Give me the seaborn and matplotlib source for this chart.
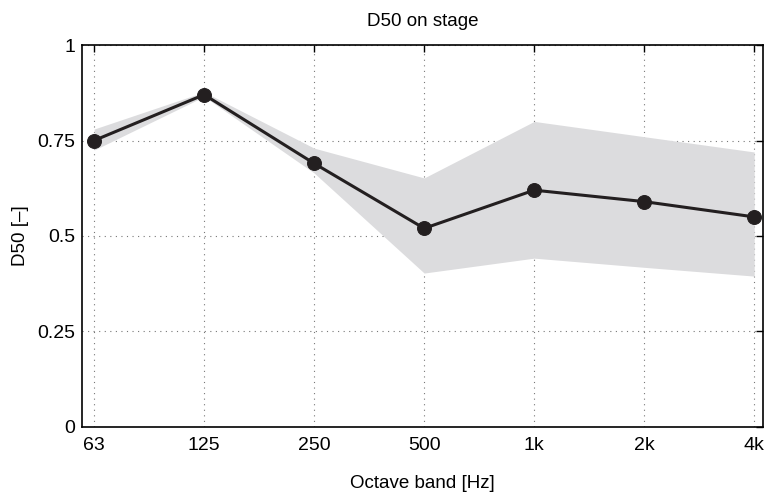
import matplotlib
matplotlib.use("Agg")
import matplotlib.pyplot as plt
import seaborn as sns
import pandas as pd
import numpy as np

bands = ["63", "125", "250", "500", "1k", "2k", "4k"]
d50 = [0.75, 0.87, 0.69, 0.52, 0.62, 0.59, 0.55]
band_upper = [0.78, 0.877, 0.73, 0.652, 0.80, 0.76, 0.72]
band_lower = [0.725, 0.865, 0.665, 0.403, 0.442, 0.418, 0.395]
yticks = [0, 0.25, 0.5, 0.75, 1]
ytick_labels = ["0", "0.25", "0.5", "0.75", "1"]

sns.set_style("white")
plt.rcParams["font.family"] = ["Liberation Sans", "DejaVu Sans"]
plt.rcParams["text.color"] = "black"
plt.rcParams["axes.labelcolor"] = "black"

df = pd.DataFrame({"idx": np.arange(len(bands)), "D50": d50})

fig = plt.figure(figsize=(7.68, 4.93), dpi=100)
ax = fig.add_axes([0.1068, 0.1339, 0.8867, 0.7748])

ax.fill_between(df["idx"], band_lower, band_upper, color="#dcdcde", linewidth=0, zorder=1)
sns.lineplot(data=df, x="idx", y="D50", ax=ax, color="#231f20", linewidth=2.2,
             marker="o", markersize=10, markeredgecolor="#231f20", zorder=3)

ax.set_xlim(-0.11, 6.08)
ax.set_ylim(0, 1)
ax.set_xticks(df["idx"])
ax.set_xticklabels(bands)
ax.set_yticks(yticks)
ax.set_yticklabels(ytick_labels)
ax.grid(True, linestyle=(0, (1, 4)), color="#777777", linewidth=0.8, zorder=0)
ax.set_axisbelow(True)
for s in ax.spines.values():
    s.set_visible(True)
    s.set_color("black")
    s.set_linewidth(1.2)
ax.tick_params(direction="in", length=5, width=1, labelsize=14, colors="black",
               top=True, right=True, pad=5)
ax.tick_params(axis="x", pad=7)
ax.set_xlabel("Octave band [Hz]", fontsize=13.5, labelpad=15, color="black")
ax.set_ylabel("D50 [–]", fontsize=13.5, labelpad=6, color="black")
ax.set_title("D50 on stage", fontsize=13.5, pad=14, color="black")

fig.savefig("out.png", dpi=100)
